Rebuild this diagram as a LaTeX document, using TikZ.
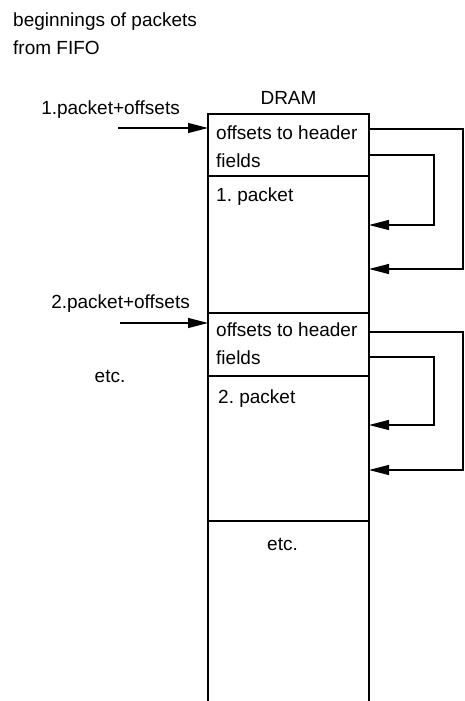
\documentclass[tikz,border=0pt]{standalone}
\usepackage{fontspec}
\setmainfont{Liberation Sans}
\usetikzlibrary{positioning,arrows.meta}
\tikzset{
  cell/.style={draw, line width=1.2pt, minimum width=161pt, inner sep=0pt, outer sep=0pt, anchor=north west},
  lbl/.style={font=\fontsize{19}{28}\selectfont\frenchspacing, inner sep=0pt, align=left},
  link/.style={line width=1.2pt, -{Triangle[length=20pt,width=10pt]}},
}
\begin{document}
\begin{tikzpicture}[x=1pt,y=-1pt]
  \useasboundingbox[fill=white] (0,0) rectangle (465,701);

  % DRAM column, one cell per region
  \node[cell, minimum height=62pt] (hdrA) at (208,114) {};
  \node[cell, minimum height=137pt, below=0pt of hdrA] (pktA) {};
  \node[cell, minimum height=63pt, below=0pt of pktA] (hdrB) {};
  \node[cell, minimum height=145pt, below=0pt of hdrB] (pktB) {};
  \node[cell, draw=none, minimum height=190pt, below=0pt of pktB] (restC) {};
  \draw[line width=1.2pt] (restC.south west) -- (restC.north west);
  \draw[line width=1.2pt] (restC.south east) -- (restC.north east);

  % Labels
  \node[lbl, anchor=north west] (title) at (13,13) {beginnings of packets\\from FIFO};
  \node[lbl, anchor=base] (dram) at ([yshift=10pt]hdrA.north) {DRAM};
  \node[lbl, anchor=base east] (inlblA) at (180,114) {1.packet+offsets};
  \node[lbl, anchor=base east] (inlblB) at (190,308) {2.packet+offsets};
  \node[lbl, anchor=base] (etcL) at (110,382) {etc.};
  \node[lbl, anchor=north west] (offA) at ([xshift=8pt,yshift=-12pt]hdrA.north west) {offsets to header\\fields};
  \node[lbl, anchor=base west] (pktlblA) at ([xshift=8pt,yshift=-25pt]pktA.north west) {1. packet};
  \node[lbl, anchor=north west] (offB) at ([xshift=8pt,yshift=-10pt]hdrB.north west) {offsets to header\\fields};
  \node[lbl, anchor=base west] (pktlblB) at ([xshift=10pt,yshift=-27pt]pktB.north west) {2. packet};
  \node[lbl, anchor=base] (etcR) at ([xshift=-6pt,yshift=-29pt]restC.north) {etc.};

  % Incoming packets
  \coordinate (inA) at (118,128);
  \coordinate (inB) at (120,323);
  \draw[link] (inA) -- (inA -| hdrA.west);
  \draw[link] (inB) -- (inB -| hdrB.west);

  % Offsets pointing into the packets
  \draw[link] ([yshift=-15pt]hdrA.north east) -- ++(94,0) |- ([yshift=44pt]pktA.south east);
  \draw[link] ([yshift=21pt]hdrA.south east) -- ++(65,0) |- ([yshift=88pt]pktA.south east);
  \draw[link] ([yshift=-19pt]hdrB.north east) -- ++(94,0) |- ([yshift=51pt]pktB.south east);
  \draw[link] ([yshift=19pt]hdrB.south east) -- ++(65,0) |- ([yshift=96pt]pktB.south east);
\end{tikzpicture}
\end{document}
